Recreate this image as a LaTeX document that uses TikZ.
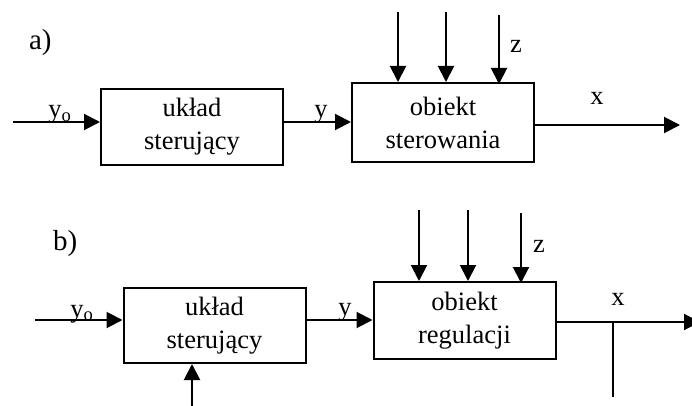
\documentclass[tikz,border=0pt]{standalone}
\usepackage{fontspec}
\setmainfont{Liberation Serif}
\usetikzlibrary{arrows.meta}
\begin{document}
\begin{tikzpicture}[x=1pt,y=-1pt,
  line width=2pt,
  every node/.style={font=\fontsize{26.5}{33}\selectfont},
  block/.style={draw, line width=2pt, minimum width=182pt, align=center, inner sep=0pt},
  sig/.style={-{Triangle[length=16pt,width=16pt]}},
  lbl/.style={anchor=base, inner sep=0pt},
  tag/.style={anchor=base west, inner sep=0pt, font=\fontsize{29}{33}\selectfont}]
\useasboundingbox (0,0) rectangle (692,406);

% ---------- a) open-loop control ----------
\node[tag] (ta) at (28,50) {a)};
\node[block, minimum height=76pt] (ua) at (192,127) {układ\\sterujący};
\node[block, minimum height=79pt] (oa) at (443,122.5) {obiekt\\sterowania};

\coordinate (ina) at (13,122);
\coordinate (outa) at (680,125);
\coordinate (za1) at (398,12);
\coordinate (za2) at (446,12);
\coordinate (za3) at (499,15);

\draw[sig] (ina) -- (ina -| ua.west);
\draw[sig] (ua.east |- ina) -- (oa.west |- ina);
\draw[sig] (oa.east |- outa) -- (outa);
\draw[sig] (za1) -- (za1 |- oa.north);
\draw[sig] (za2) -- (za2 |- oa.north);
\draw[sig] (za3) -- ([yshift=-2pt]za3 |- oa.north);

\node[lbl] (y0a) at (60,118) {y\textsubscript{o}};
\node[lbl] (ya) at (321,118) {y};
\node[lbl] (za) at (516,53) {z};
\node[lbl] (xa) at (597,105) {x};

% ---------- b) closed-loop control ----------
\node[tag] (tb) at (52,250) {b)};
\node[block, minimum height=75pt] (ub) at (214.5,325.5) {układ\\sterujący};
\node[block, minimum height=77pt] (ob) at (464.5,320.5) {obiekt\\regulacji};

\coordinate (inb) at (35,320);
\coordinate (outb) at (700,322);
\coordinate (br) at (613,322);
\coordinate (brend) at (613,397);
\coordinate (fb) at (192,410);
\coordinate (zb1) at (419,210);
\coordinate (zb2) at (468,210);
\coordinate (zb3) at (521,213);

\draw[sig] (inb) -- (inb -| ub.west);
\draw[sig] (ub.east |- inb) -- (ob.west |- inb);
\draw[sig] (ob.east |- outb) -- (outb);
\draw (br) -- (brend);
\draw[sig] (fb) -- (fb |- ub.south);
\draw[sig] (zb1) -- (zb1 |- ob.north);
\draw[sig] (zb2) -- (zb2 |- ob.north);
\draw[sig] (zb3) -- ([yshift=-2pt]zb3 |- ob.north);

\node[lbl] (y0b) at (82,317) {y\textsubscript{o}};
\node[lbl] (yb) at (345,315) {y};
\node[lbl] (zb) at (539,252) {z};
\node[lbl] (xb) at (618,305) {x};
\end{tikzpicture}
\end{document}
